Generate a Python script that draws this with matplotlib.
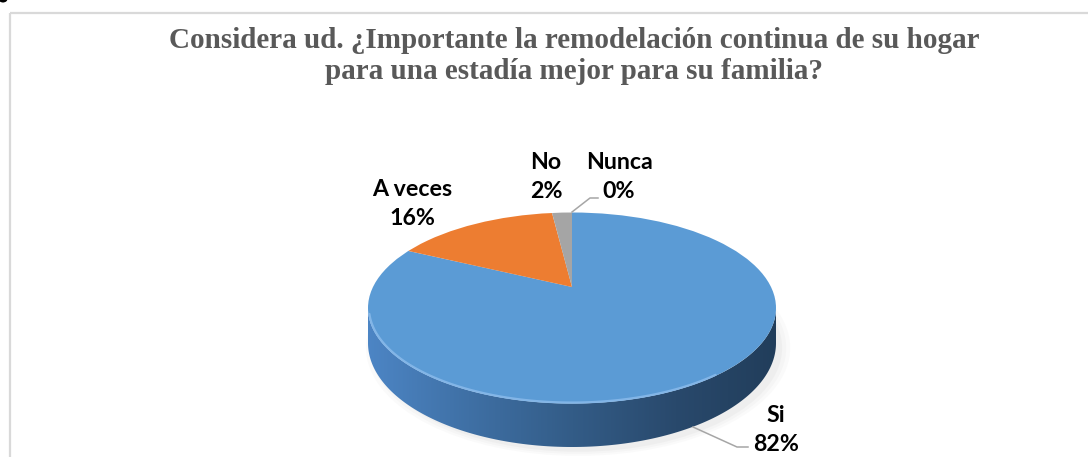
import numpy as np
import matplotlib
matplotlib.use("Agg")
import matplotlib.pyplot as plt
from matplotlib.patches import Rectangle, Ellipse, Polygon
from matplotlib.colors import LinearSegmentedColormap

# ---------------- data ----------------
categories = ['Si', 'A veces', 'No', 'Nunca']
values = [82, 16, 2, 0]
pct_labels = ['82%', '16%', '2%', '0%']
colors = ['#5b9bd5', '#ed7d31', '#a5a5a5', '#ffc000']
title = ("Considera ud. ¿Importante la remodelación continua de su hogar\n"
         "para una estadía mejor para su familia?")

W, H = 1088, 457
fig = plt.figure(figsize=(W / 100, H / 100), dpi=100)

# background axes in pixel coordinates
bg = fig.add_axes([0, 0, 1, 1])
bg.set_xlim(0, W)
bg.set_ylim(H, 0)
bg.axis('off')

# chart frame
bg.add_patch(Rectangle((10, 13), 1100, 470, fill=False,
                       edgecolor='#d9d9d9', lw=1.6, zorder=1))
# fragment of a glyph from the page above the chart
bg.add_patch(Ellipse((3, -1), 9, 7, facecolor='black', edgecolor='none'))

# title
bg.text(574, 56, title, ha='center', va='center', family='Liberation Serif',
        fontweight='bold', fontsize=21, color='#595959', linespacing=1.22)

# ---------------- pie ----------------
cx, cy, rx, ry = 572, 308, 204, 95.5   # pixel geometry of top face
t0 = 35 / ry                             # side thickness at the left/right ends
sy = 104 / ry                            # vertical stretch of the bottom rim
vert = 21 / ry                           # perspective shift of the pie apex

pa = fig.add_axes([0, 0, 1, 1], zorder=2)
pa.patch.set_alpha(0)

# soft shadow
for k, a in enumerate([0.035, 0.045, 0.06]):
    s = 1.0 + 0.02 * (2 - k)
    pa.add_patch(Ellipse((0.03, -t0 - 0.05), 2 * s, 2 * s * sy,
                         facecolor='#8c8c8c', edgecolor='none', alpha=a, zorder=0))

# side of the disk (gradient)
th = np.linspace(np.pi, 2 * np.pi, 200)
top_edge = np.column_stack([np.cos(th), np.sin(th)])
bot_edge = np.column_stack([np.cos(th[::-1]), np.sin(th[::-1]) * sy - t0])
side = Polygon(np.vstack([top_edge, bot_edge]), closed=True,
               facecolor='none', edgecolor='none')
pa.add_patch(side)
cmap = LinearSegmentedColormap.from_list(
    'side', ['#4d86c6', '#3f70a5', '#335c87', '#29496c', '#213d5a'])
grad = np.linspace(0, 1, 256).reshape(1, -1)
im = pa.imshow(grad, extent=(-1.02, 1.02, -sy - t0 - 0.05, 0.05), cmap=cmap,
               aspect='auto', zorder=1, interpolation='bilinear')
im.set_clip_path(side)

# top face: wedges from a perspective apex, clipped to the elliptical face
face = Ellipse((0, 0), 2, 2, facecolor='none', edgecolor='none')
pa.add_patch(face)
wedges, _ = pa.pie(values, colors=colors, startangle=90, counterclock=False,
                   radius=1.8, center=(0, vert),
                   wedgeprops=dict(linewidth=0))
for w in wedges:
    w.set_zorder(3)
    w.set_clip_on(True)
    w.set_clip_path(face)

# rim highlight
th2 = np.linspace(np.pi * 1.02, np.pi * 1.75, 100)
pa.plot(np.cos(th2) * 0.995, np.sin(th2) * 0.99, color='#8cbcec', lw=1.6,
        alpha=0.8, zorder=4, solid_capstyle='round')

pa.set_aspect('auto')
pa.set_xlim((0 - cx) / rx, (W - cx) / rx)
pa.set_ylim((cy - H) / ry, cy / ry)
pa.axis('off')

# ---------------- labels ----------------
lab_pos = {'Si': (776, 430), 'A veces': (412, 204), 'No': (546, 177),
           'Nunca': (619, 177)}
for cat, pct in zip(categories, pct_labels):
    x, y = lab_pos[cat]
    bg.text(x, y, f"{cat}\n{pct}", ha='center', va='center', family='Lato',
            fontweight='bold', fontsize=16.7, color='black', linespacing=1.5,
            zorder=5)

# leader lines
lead = fig.add_axes([0, 0, 1, 1], zorder=3)
lead.set_xlim(0, W)
lead.set_ylim(H, 0)
lead.axis('off')
lead.plot([598, 590, 572], [198, 198, 212], color='#a6a6a6', lw=1.1)
lead.plot([693, 737, 748], [427, 447, 447], color='#a6a6a6', lw=1.1)

fig.savefig('out.png', dpi=100)
